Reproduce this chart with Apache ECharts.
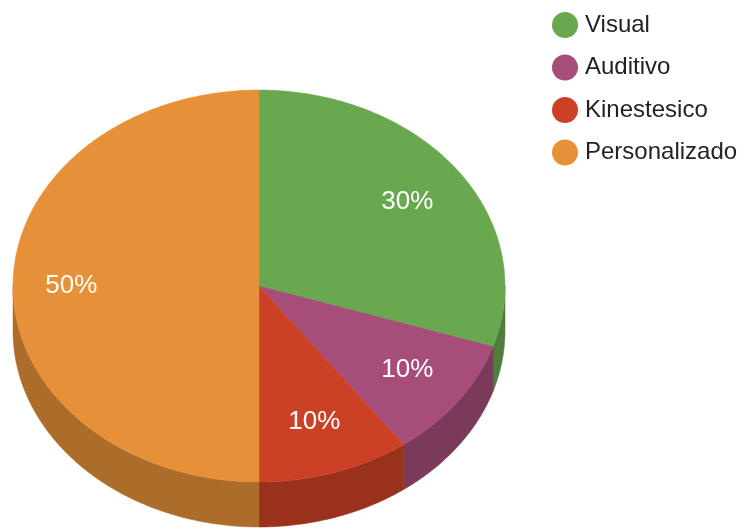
<!DOCTYPE html>
<html>
<head>
<meta charset="utf-8">
<script src="https://cdn.jsdelivr.net/npm/echarts@6/dist/echarts.min.js"></script>
<style>
  html, body { margin: 0; padding: 0; background: #ffffff; }
  #chart { width: 750px; height: 529px; }
</style>
</head>
<body>
<div id="chart"></div>
<script>
// Learning-style shares
const categories = ['Visual', 'Auditivo', 'Kinestesico', 'Personalizado'];
const values = [30, 10, 10, 50];

// Face colours and the darker shades used for the rim
const topColors = ['#6aa84f', '#a64d79', '#cc4125', '#e69138'];
const sideColors = ['#4f7e3b', '#7c3a5b', '#99311c', '#ad6d2a'];

const total = values.reduce((a, b) => a + b, 0);
const starts = [];
values.reduce((acc, v) => { starts.push(acc); return acc + v; }, 0);

// Tilted-disc geometry: ellipse centre/radii and rim thickness
const PIE = { cx: 259, cy: 286, rx: 246, ry: 196, depth: 45 };
// Where the percentage labels sit inside each slice
const LABEL = { cx: 257, cy: 285.5, fx: 0.755, fy: 0.73 };
const FONT = 'Arial, "Liberation Sans", sans-serif';

// angle measured clockwise from 12 o'clock
function pt(a, dy) {
  return [PIE.cx + PIE.rx * Math.sin(a), PIE.cy - PIE.ry * Math.cos(a) + (dy || 0)];
}
function arc(a0, a1, dy) {
  const n = Math.max(2, Math.ceil(Math.abs(a1 - a0) / (Math.PI / 360)));
  const out = [];
  for (let k = 0; k <= n; k++) out.push(pt(a0 + (a1 - a0) * k / n, dy));
  return out;
}
function sliceAngles(i, v) {
  const a0 = starts[i] / total * 2 * Math.PI;
  return [a0, a0 + v / total * 2 * Math.PI];
}

// Rim: only the front half of the disc (3 o'clock -> 9 o'clock) is visible
const rimSeries = {
  type: 'custom',
  name: '__rim',
  coordinateSystem: 'none',
  silent: true,
  z: 1,
  data: values.slice(),
  renderItem: function (params, api) {
    const i = params.dataIndex;
    const [a0, a1] = sliceAngles(i, api.value(0));
    const lo = Math.max(a0, Math.PI / 2);
    const hi = Math.min(a1, 3 * Math.PI / 2);
    if (hi <= lo) return { type: 'group', children: [] };
    return {
      type: 'polygon',
      shape: { points: arc(lo, hi, 0).concat(arc(hi, lo, PIE.depth)) },
      style: { fill: sideColors[i], stroke: sideColors[i], lineWidth: 0.5 }
    };
  }
};

// Top face of each slice, one series per category so the legend lists them
const topSeries = categories.map(function (name, i) {
  return {
    type: 'custom',
    name: name,
    coordinateSystem: 'none',
    z: 2,
    itemStyle: { color: topColors[i] },
    data: [values[i]],
    renderItem: function (params, api) {
      const v = api.value(0);
      const [a0, a1] = sliceAngles(i, v);
      const mid = (a0 + a1) / 2;
      const lx = LABEL.cx + LABEL.fx * PIE.rx * Math.sin(mid);
      const ly = LABEL.cy - LABEL.fy * PIE.ry * Math.cos(mid);
      return {
        type: 'group',
        children: [
          {
            type: 'polygon',
            shape: { points: [[PIE.cx, PIE.cy]].concat(arc(a0, a1, 0)) },
            style: { fill: topColors[i], stroke: topColors[i], lineWidth: 0.5 }
          },
          {
            type: 'text',
            z2: 10,
            style: {
              x: lx, y: ly,
              text: Math.round(v / total * 100) + '%',
              fill: '#ffffff',
              fontSize: 26,
              fontFamily: FONT,
              align: 'center',
              verticalAlign: 'middle'
            }
          }
        ]
      };
    }
  };
});

const chart = echarts.init(document.getElementById('chart'), null, { renderer: 'canvas' });
chart.setOption({
  animation: false,
  backgroundColor: '#ffffff',
  legend: {
    data: categories,
    orient: 'vertical',
    left: 547,
    top: 7,
    icon: 'circle',
    itemWidth: 26,
    itemHeight: 26,
    itemGap: 16.5,
    textStyle: {
      color: '#222222',
      fontSize: 24,
      fontFamily: FONT,
      lineHeight: 26,
      padding: [0, 0, 0, 2]
    },
    selectedMode: false
  },
  series: [rimSeries].concat(topSeries)
});
</script>
</body>
</html>
